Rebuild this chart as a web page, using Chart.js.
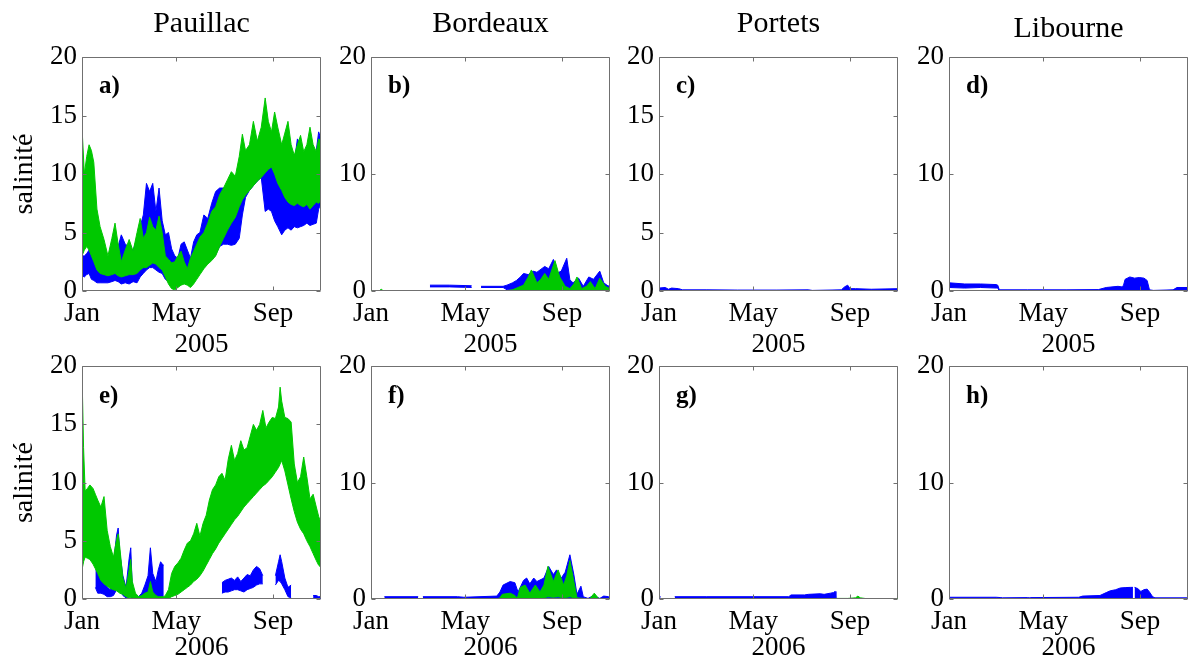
<!DOCTYPE html>
<html>
<head>
<meta charset="utf-8">
<script src="https://cdn.jsdelivr.net/npm/chart.js@4.4.0/dist/chart.umd.min.js"></script>
<style>
  body { margin: 0; background: #fff; width: 1190px; height: 665px; overflow: hidden; position: relative; }
  canvas { position: absolute; }
</style>
</head>
<body>
<script>
// x axis is day of year, ticks on the 1st of Jan / May / Sep
const monthTicks = [0, 120, 243];
const monthNames = ['Jan', 'May', 'Sep'];
const stations = ['Pauillac', 'Bordeaux', 'Portets', 'Libourne'];
const years = ['2005', '2006'];
const yTicksFine = [0, 5, 10, 15, 20];
const yTicksCoarse = [0, 10, 20];

// a) Pauillac 2005
const aDays = [0,3,6,9,12,15,19,23,28,33,38,42,46,50,55,60,65,70,74,78,82,86,90,94,98,102,106,110,114,118,122,126,130,134,138,142,146,150,155,160,165,170,175,180,185,190,195,200,204,208,213,218,223,228,233,237,241,245,249,254,258,262,266,270,274,278,282,286,290,294,298,301,304];
const aGreenHi = [14.0,10.0,11.5,12.5,12.0,11.0,7.0,5.5,4.4,3.0, 4.5,5.8,4.0,2.5,3.5,4.4,3.4,5.0,6.2,4.5, 5.0,6.3,5.5,5.2,6.4,5.0,3.0,2.7,2.4,2.5, 3.0,3.4,2.5,1.9,2.8,3.4,4.0,4.6,5.0,5.8, 6.8,7.2,8.2,8.8,9.5,10.2,9.8,11.5,13.4,12.0, 12.5,14.5,12.8,14.0,16.5,14.5,13.6,15.3,14.0,12.5, 13.5,14.5,12.5,11.6,12.5,13.3,11.9,12.5,14.0,12.5, 11.9,13.0,12.8];
const aGreenLo = [3.0,3.5,3.8,3.5,3.0,2.5,1.8,1.5,1.4,1.3, 1.4,1.5,1.3,1.2,1.3,1.4,1.4,1.5,1.8,2.0, 2.0,2.2,2.4,2.3,2.0,1.8,1.2,0.6,0.2,0.1, 0.3,0.5,0.6,0.5,0.3,0.6,1.0,1.4,1.9,2.3, 2.6,3.0,3.8,4.5,5.2,5.8,6.3,7.2,7.8,8.2, 8.6,9.0,9.4,9.7,10.1,10.4,10.6,10.0,9.2,8.6, 8.0,7.6,7.4,7.3,7.5,7.3,7.2,7.4,7.0,7.3, 7.6,7.5,7.8];
const aBlueHi = [3.0,3.0,3.2,3.5,3.8,3.5,3.0,3.0,2.8,2.6, 3.0,3.5,3.8,4.8,4.0,3.8,3.5,4.5,5.5,6.5, 9.2,8.5,9.2,6.8,8.8,6.0,4.8,5.0,3.6,3.0, 2.8,4.0,4.2,3.5,2.8,4.2,4.8,5.0,6.5,6.2, 7.5,8.5,8.8,8.8,9.0,9.5,9.5,10.5,11.0,10.5, 11.0,12.0,11.0,11.5,12.5,12.0,11.5,12.0,11.5,11.0, 11.5,12.0,11.0,11.0,13.0,12.5,11.0,12.0,12.5,11.5, 12.0,13.6,13.0];
const aBlueLo = [1.3,1.2,1.4,1.5,1.0,0.9,0.7,0.7,0.7,0.7, 0.8,0.9,0.8,0.6,0.7,0.6,0.8,0.7,1.2,1.5, 1.8,2.0,2.0,1.8,1.6,1.5,1.0,0.8,0.6,0.9, 1.3,1.6,1.2,1.0,1.0,1.2,1.5,1.6,2.0,2.4, 2.7,3.1,3.8,4.0,4.0,3.9,4.0,4.5,6.5,8.0, 8.6,9.0,9.4,9.7,6.8,7.0,6.8,6.0,5.5,4.8, 5.2,5.4,5.2,5.5,5.4,5.5,5.6,5.8,5.6,5.7, 5.8,7.0,7.5];

// b) Bordeaux 2005
const bBlueDays = [75,100,128,129,140,168,173,180,185,190,194,200,206,211,215,221,226,232,236,242,249,253,257,264,270,277,283,291,296,302,304];
const bBlueHi = [0.5,0.5,0.45,null,0.4,0.4,0.5,0.7,0.9,1.2,1.5,1.4,1.7,1.6,1.8,2.1,1.9,2.7,1.5,1.7,2.8,0.95,0.7,1.1,0.4,1.2,1.0,1.7,0.7,0.4,0.6];
const bBlueLo = [0.35,0.35,0.3,null,0.3,0.3,0.1,0.1,0.1,0.05,0.05,0.05,0.05,0.05,0.05,0.05,0.05,0.05,0.05,0.05,0.05,0.05,0.05,0.05,0.05,0.05,0.05,0.05,0.05,0.05,0.05];
const bGreenDays = [0,10,13,16,20,170,180,194,200,204,211,216,221,226,230,234,240,247,253,258,262,268,274,279,285,291,298,304];
const bGreenHi = [0,0,0.15,0,0,0,0.1,0.5,1.2,1.8,0.7,1.0,1.5,1.0,1.8,2.6,1.2,0.4,0.2,0.6,1.2,0.2,0.4,0.8,0.2,1.1,0.4,0.2];
const bGreenLo = [0,0,0,0,0,0,0,0,0,0,0,0,0,0,0,0,0,0,0,0,0,0,0,0,0,0,0,0];

// c) Portets 2005
const cBlueDays = [0,8,12,16,25,30,60,100,150,190,195,232,236,240,243,250,270,304];
const cBlueHi = [0.25,0.3,0.15,0.25,0.2,0.1,0.1,0.08,0.08,0.1,0.05,0.1,0.35,0.5,0.2,0.2,0.15,0.2];
const cBlueLo = [0,0.05,0.05,0.05,0,0,0,0,0,0,0,0,0,0.05,0.05,0.05,0.05,0.05];
const cGreenDays = [190,247];
const cGreenHi = [0.02,0.02];
const cGreenLo = [0,0];

// d) Libourne 2005
const dBlueDays = [0,20,40,60,62,64,100,150,190,200,215,220,222,224,230,236,242,248,252,255,260,285,290,304];
const dBlueHi = [0.7,0.6,0.6,0.55,0.5,0.1,0.1,0.1,0.12,0.3,0.4,0.35,0.5,1.0,1.2,1.1,1.15,1.1,0.9,0.1,0.05,0.1,0.3,0.3];
const dBlueLo = [0.3,0.25,0.3,0.25,0.25,0,0,0,0,0,0,0,0,0.05,0.05,0.05,0.05,0.05,0.05,0,0,0,0.05,0.05];
const dGreenDays = [190,255];
const dGreenHi = [0.02,0.02];
const dGreenLo = [0,0];

// e) Pauillac 2006
const eDays = [0,2,4,7,10,14,17,20,24,28,32,36,40,44,46,48,52,56,60,62,64,68,72,76,80,84,87,90,94,97,100,102,104,106,110,114,118,122,126,130,134,138,142,146,150,154,158,162,166,170,174,178,182,186,190,194,198,202,206,210,214,218,222,226,230,234,238,242,246,250,252,254,258,262,266,270,274,278,282,286,290,294,298,301,304];
const eGreenHi = [19.5,13.0,9.3,9.5,9.8,9.5,9.0,8.5,7.9,8.8, 5.9,4.5,3.6,5.1,5.6,4.5,1.8,0.9,2.5,3.4, 1.5,0.5,0.2,0.3,0.5,0.6,1.5,0.6,0.3,0.2, 0.2,0.2,0.2,0.3,0.8,2.2,2.8,3.1,3.5,4.2, 4.8,5.0,5.6,6.5,5.4,6.5,7.2,8.5,9.4,9.8, 10.5,10.8,10.2,12.0,13.2,11.9,12.5,13.6,12.8,13.0, 14.0,15.0,14.5,15.0,16.2,14.7,15.2,15.6,15.5,16.5, 18.2,17.0,15.6,15.5,15.2,11.6,10.0,10.5,12.2,10.5, 8.6,9.0,7.9,7.1,6.5];
const eGreenLo = [2.5,3.2,3.6,3.5,3.4,3.0,2.6,2.2,1.6,1.3, 1.1,0.9,0.8,0.7,0.6,0.5,0.4,0.2,0.1,0.1, 0.1,0,0,0,0,0,0,0,0,0, 0,0,0,0,0.05,0.2,0.3,0.4,0.6,0.8, 1.0,1.2,1.5,1.7,2.0,2.4,2.9,3.4,3.9,4.3, 4.8,5.2,5.6,6.0,6.4,6.8,7.1,7.5,7.9,8.2, 8.5,8.8,9.1,9.4,9.7,9.9,10.2,10.5,10.9,11.3, 11.6,11.9,11.0,9.8,8.6,7.5,6.6,6.0,5.6,5.0, 4.5,3.9,3.3,2.9,2.7];
const eBlueHi = [null,null,null,null,null,null,3.2,3.0,2.4,1.8, 1.0,0.8,3.0,5.5,6.1,4.0,2.0,1.0,3.5,4.4, 1.0,0.3,0.2,0.5,1.2,2.0,4.4,2.2,1.5,2.5, 3.2,3.0,2.9,null,null,null,null,null,null,null, null,null,null,null,null,null,null,null,null,null, null,1.4,1.6,1.7,1.8,1.6,1.9,1.5,1.8,2.1, 2.0,2.5,2.8,2.6,2.0,null,null,null,2.0,3.2, 3.8,3.2,1.8,1.0,1.2,null,null,null,null,null, null,0.3,0.3,0.2,0.2];
const eBlueLo = [null,null,null,null,null,null,1.0,0.5,0.5,0.4, 0.2,0.2,0.3,0.8,1.0,0.8,0.3,0.1,0.2,0.2, 0,0,0,0,0.1,0.3,0.5,0.4,0.2,0.1, 0.1,0.1,0.1,null,null,null,null,null,null,null, null,null,null,null,null,null,null,null,null,null, null,0.5,0.6,0.6,0.7,0.8,0.8,0.7,0.6,0.8, 0.9,1.0,1.2,1.3,1.3,null,null,null,1.2,1.6, 1.5,1.3,0.8,0.2,0.1,null,null,null,null,null, null,0.05,0.05,0,0];

// f) Bordeaux 2006
const fBlueDays = [17,60,64,66,110,118,160,164,168,177,183,187,194,198,202,207,211,220,226,232,236,242,247,253,258,262,267,270,276,283,291,296,302,304];
const fBlueHi = [0.2,0.2,null,0.2,0.2,0.15,0.25,0.6,1.2,1.5, 1.4,0.6,1.6,1.8,1.3,1.8,1.5,1.8,2.8,2.1, 2.5,1.8,2.3,3.8,2.1,0.4,1.1,0.2,0.05,0.3, 0.05,0.25,0.2,0.15];
const fBlueLo = [0,0,null,0,0,0,0,0,0.05,0.1, 0.1,0.05,0.1,0.1,0.1,0.1,0.1,0.1,0.1,0.1, 0.1,0.1,0.1,0.1,0.05,0,0,0,0,0, 0,0,0,0];
const fGreenDays = [0,160,164,167,177,183,186,190,196,202,209,215,220,225,232,238,245,249,253,258,262,278,284,290,304];
const fGreenHi = [0,0,0.1,0.4,0.5,0.3,0.05,1.0,1.2,0.5,1.2,0.6,1.2,2.8,1.5,2.5,1.2,2.0,3.3,1.5,0.1,0,0.5,0,0];
const fGreenLo = [0,0,0,0,0,0,0,0,0,0,0,0,0.1,0.2,0.15,0.2,0.1,0.15,0.2,0.1,0,0,0,0,0];

// g) Portets 2006
const gBlueDays = [0,2,3,20,60,120,165,168,185,190,205,210,218,222,224,225];
const gBlueHi = [0.2,0.2,null,0.2,0.2,0.2,0.2,0.35,0.35,0.4,0.45,0.4,0.5,0.55,0.65,0];
const gBlueLo = [0,0,null,0,0,0,0,0,0,0,0,0.05,0.05,0,0,0];
const gGreenDays = [224,240,250,253,256,265,304];
const gGreenHi = [0.05,0.05,0.1,0.25,0.1,0.02,0.02];
const gGreenLo = [0,0,0,0,0,0,0];

// h) Libourne 2006
const hBlueDays = [0,60,66,68,100,102,104,165,170,192,200,205,212,218,225,231,234,235,236,240,244,248,252,255,259,262,304];
const hBlueHi = [0.15,0.15,0.12,0.1,0.12,0.1,0.12,0.15,0.25,0.3, 0.55,0.7,0.8,0.95,0.98,1.0,1.0,null,1.0,0.9, 0.65,0.8,0.85,0.6,0.2,0.1,0.1];
const hBlueLo = [0,0,0,0,0,0,0,0,0,0, 0,0,0,0,0,0,0,null,0,0, 0,0,0,0,0,0,0];
const hGreenDays = [];
const hGreenHi = [];
const hGreenLo = [];

const BLUE = '#0000ff';
const GREEN = '#00c800';
const SERIF = '"Liberation Serif", "Times New Roman", serif';

const panels = [
  { letter: 'a)', row: 0, col: 0, yTicks: yTicksFine,   blue: [aDays, aBlueLo, aBlueHi], green: [aDays, aGreenLo, aGreenHi] },
  { letter: 'b)', row: 0, col: 1, yTicks: yTicksCoarse, blue: [bBlueDays, bBlueLo, bBlueHi], green: [bGreenDays, bGreenLo, bGreenHi] },
  { letter: 'c)', row: 0, col: 2, yTicks: yTicksFine,   blue: [cBlueDays, cBlueLo, cBlueHi], green: [cGreenDays, cGreenLo, cGreenHi] },
  { letter: 'd)', row: 0, col: 3, yTicks: yTicksCoarse, blue: [dBlueDays, dBlueLo, dBlueHi], green: [dGreenDays, dGreenLo, dGreenHi] },
  { letter: 'e)', row: 1, col: 0, yTicks: yTicksFine,   blue: [eDays, eBlueLo, eBlueHi], green: [eDays, eGreenLo, eGreenHi] },
  { letter: 'f)', row: 1, col: 1, yTicks: yTicksCoarse, blue: [fBlueDays, fBlueLo, fBlueHi], green: [fGreenDays, fGreenLo, fGreenHi] },
  { letter: 'g)', row: 1, col: 2, yTicks: yTicksCoarse, blue: [gBlueDays, gBlueLo, gBlueHi], green: [gGreenDays, gGreenLo, gGreenHi] },
  { letter: 'h)', row: 1, col: 3, yTicks: yTicksCoarse, blue: [hBlueDays, hBlueLo, hBlueHi], green: [hGreenDays, hGreenLo, hGreenHi] },
];

// layout of the grid (screen pixels)
const colLeft = [82, 371, 659, 949];
const rowTop = [57, 365];
const plotW = 239, plotH = 234, axisW = 82, axisH = 70, padR = 8;

// matlab style box with inward ticks + panel letter
const framePlugin = {
  id: 'frame',
  afterDatasetsDraw(chart, args, opts) {
    const { ctx, chartArea: a, scales: { x, y } } = chart;
    const L = Math.round(a.left) + 0.5, R = Math.round(a.right) - 0.5;
    const T = Math.round(a.top) + 0.5, B = Math.round(a.bottom) - 0.5;
    ctx.save();
    ctx.strokeStyle = '#707070';
    ctx.lineWidth = 1;
    ctx.beginPath();
    ctx.rect(L, T, R - L, B - T);
    monthTicks.forEach(v => {
      const px = Math.round(x.getPixelForValue(v)) + 0.5;
      ctx.moveTo(px, B); ctx.lineTo(px, B - 4);
      ctx.moveTo(px, T); ctx.lineTo(px, T + 4);
    });
    opts.yTicks.forEach(v => {
      const py = Math.round(y.getPixelForValue(v)) + 0.5;
      ctx.moveTo(L, py); ctx.lineTo(L + 4, py);
      ctx.moveTo(R, py); ctx.lineTo(R - 4, py);
    });
    ctx.stroke();
    ctx.fillStyle = '#000';
    ctx.font = 'bold 25px ' + SERIF;
    ctx.textAlign = 'left';
    ctx.textBaseline = 'middle';
    ctx.fillText(opts.letter, a.left + 17, a.top + 30);
    ctx.restore();
  }
};

function band(days, lo, hi, color) {
  const pts = arr => days.map((d, i) => ({ x: d, y: arr[i] }));
  return [
    { data: pts(lo), borderColor: color, borderWidth: 1, pointRadius: 0, fill: false, spanGaps: false },
    { data: pts(hi), borderColor: color, backgroundColor: color, borderWidth: 1, pointRadius: 0, fill: '-1', spanGaps: false },
  ];
}

panels.forEach(p => {
  const topPad = p.row === 0 ? 57 : 20;
  const canvas = document.createElement('canvas');
  canvas.width = axisW + plotW + padR;
  canvas.height = topPad + plotH + axisH;
  canvas.style.left = (colLeft[p.col] - axisW) + 'px';
  canvas.style.top = (rowTop[p.row] - topPad) + 'px';
  document.body.appendChild(canvas);

  const tickFont = { family: SERIF, size: 27 };
  new Chart(canvas.getContext('2d'), {
    type: 'line',
    data: {
      datasets: [
        ...band(p.green[0], p.green[1], p.green[2], GREEN),
        ...band(p.blue[0], p.blue[1], p.blue[2], BLUE),
      ],
    },
    options: {
      responsive: false,
      animation: false,
      devicePixelRatio: 1,
      layout: { padding: { left: 0, right: padR, top: p.row === 0 ? 0 : topPad, bottom: 0 } },
      plugins: {
        legend: { display: false },
        tooltip: { enabled: false },
        title: {
          display: p.row === 0,
          fullSize: false,
          text: stations[p.col],
          color: '#000',
          font: { family: SERIF, size: 30, weight: 'normal' },
          padding: p.col === 3 ? { top: 11, bottom: 10 } : { top: 6, bottom: 15 },
        },
        frame: { letter: p.letter, yTicks: p.yTicks },
      },
      scales: {
        x: {
          type: 'linear',
          min: 0,
          max: 304,
          grid: { display: false, drawTicks: false },
          border: { display: false },
          afterBuildTicks: s => { s.ticks = monthTicks.map(v => ({ value: v })); },
          afterFit: s => { s.height = axisH; },
          ticks: {
            autoSkip: false, maxRotation: 0, padding: 7, color: '#000', font: tickFont,
            callback: v => monthNames[monthTicks.indexOf(v)],
          },
          title: {
            display: true, text: years[p.row], color: '#000', font: tickFont,
            padding: { top: 0, bottom: p.row === 0 ? 0 : 5 },
          },
        },
        y: {
          min: 0,
          max: 20,
          grid: { display: false, drawTicks: false },
          border: { display: false },
          afterBuildTicks: s => { s.ticks = p.yTicks.map(v => ({ value: v })); },
          afterFit: s => { s.width = axisW; },
          ticks: { padding: 5, color: '#000', font: tickFont },
          title: {
            display: p.col === 0, text: 'salinité', color: '#000',
            font: { family: SERIF, size: 28 },
            padding: { top: 8, bottom: 0 },
          },
        },
      },
    },
    plugins: [framePlugin],
  });
});
</script>
</body>
</html>
